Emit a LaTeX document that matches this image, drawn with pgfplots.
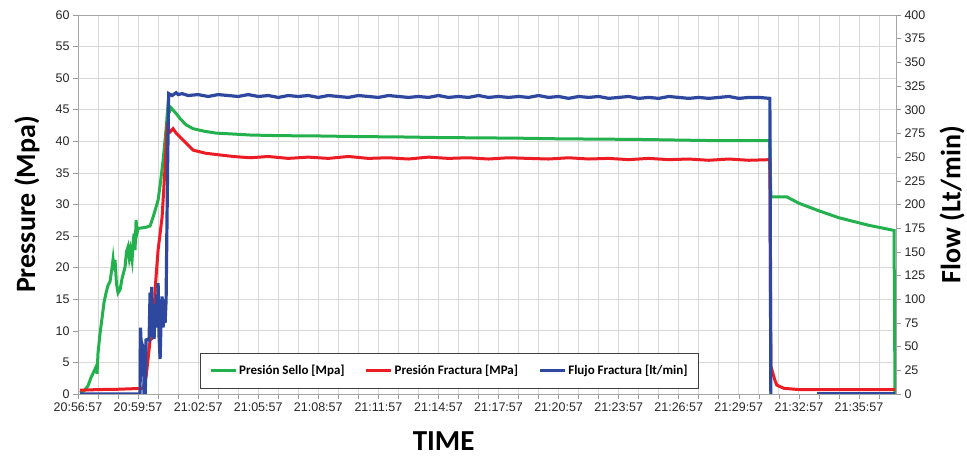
\documentclass[border=0pt]{standalone}
\usepackage{fontspec}
\setmainfont{Liberation Sans}
\newfontfamily\calibri{Carlito}
\usepackage{pgfplots}
\pgfplotsset{compat=1.18}
\definecolor{sello}{RGB}{34,177,76}
\definecolor{fractura}{RGB}{237,28,36}
\definecolor{flujo}{RGB}{46,72,160}

\begin{document}
\begin{tikzpicture}
\pgfplotsset{
  every axis/.append style={
    width=818pt, height=379pt, scale only axis,
    xmin=0, xmax=40.85,
    /pgf/number format/assume math mode=true,
    tick label style={font=\fontsize{12.5}{14}\selectfont, color=black!85},
    tick style={gray!80, line width=0.6pt},
    tick align=outside,
    major tick length=5pt, minor tick length=5pt,
    axis line style={gray!70, line width=0.8pt},
  }
}
\begin{axis}[name=ax,
  ymin=0, ymax=60, ytick={0,5,...,60},
  xtick={0,3,...,39}, minor xtick={0,1,...,40},
  xticklabels={20:56:57,20:59:57,21:02:57,21:05:57,21:08:57,21:11:57,21:14:57,
    21:17:57,21:20:57,21:23:57,21:26:57,21:29:57,21:32:57,21:35:57},
  ytick pos=left, xtick pos=bottom,
  grid=both,
  major grid style={gray!30, line width=0.8pt},
  minor grid style={gray!30, line width=0.8pt},
  ylabel={Pressure (Mpa)},
  ylabel style={font=\calibri\bfseries\fontsize{28}{30}\selectfont,
    at={(axis description cs:-0.0623,0.5)}, anchor=center},
  xlabel={TIME},
  xlabel style={font=\calibri\bfseries\fontsize{29}{30}\selectfont,
    at={(axis description cs:0.447,-0.124)}, anchor=center},
]
% Presion Sello [Mpa]
\addplot[sello, line width=3pt] coordinates {
 (0.1,0.2) (0.3,0.5) (0.5,1.3) (0.65,2.6) (0.8,3.6) (0.9,4.3) (0.95,3.2)
 (1.0,6.5) (1.1,9.6) (1.2,12) (1.3,14.5) (1.4,16) (1.5,17.2) (1.6,17.8)
 (1.7,20) (1.75,21.3) (1.8,19.6) (1.85,21.2) (1.92,17.5) (2.0,16) (2.1,16.5)
 (2.2,18.3) (2.35,20.1) (2.42,22.5) (2.5,23.3) (2.56,21.6) (2.62,22.8)
 (2.7,21.2) (2.75,23.8) (2.8,25.4) (2.85,22.8) (2.9,27.5) (2.95,25.5)
 (3.0,26.2) (3.2,26.3) (3.4,26.4) (3.6,26.6) (3.75,28) (3.9,29.6)
 (4.0,30.7) (4.1,33) (4.25,37) (4.4,42) (4.5,46) (4.58,44.8) (4.65,45.3)
 (4.9,44.4) (5.1,43.6) (5.4,42.6) (5.75,42.0) (6.3,41.6) (6.9,41.3)
 (7.5,41.2) (8.6,41.0) (10,40.9) (12,40.85) (14,40.75) (16,40.7) (18,40.6)
 (20,40.55) (22,40.5) (24,40.4) (26,40.35) (28,40.3) (30,40.2) (32,40.1)
 (34.55,40.1) (34.6,31.2) (35.4,31.2) (36.0,30.2) (37.0,29.0) (38.0,27.9)
 (39.5,26.7) (40.75,25.9) (40.8,0)
};
% Presion Fractura [MPa]
\addplot[fractura, line width=3pt] coordinates {
 (0.1,0.6) (1,0.7) (2,0.75) (3.25,0.9) (3.4,2.7) (3.6,8.5) (3.75,9)
 (3.85,16.5) (4.0,22.8) (4.2,28) (4.35,36) (4.45,42.3) (4.6,41.5)
 (4.75,42) (4.9,41.3) (5.4,39.7) (5.75,38.6) (6.4,38.1) (7.75,37.6)
 (8.6,37.4) (9.5,37.6) (10.5,37.3) (11.5,37.5) (12.5,37.3) (13.5,37.6)
 (14.5,37.3) (15.5,37.4) (16.5,37.2) (17.5,37.5) (18.5,37.3) (19.5,37.4)
 (20.5,37.2) (21.5,37.4) (22.5,37.3) (23.5,37.2) (24.5,37.4) (25.5,37.2)
 (26.5,37.3) (27.5,37.1) (28.5,37.3) (29.5,37.1) (30.5,37.2) (31.5,37.0)
 (32.5,37.2) (33.5,37.0) (34.55,37.1) (34.6,4.4) (34.8,2.2) (34.9,1.4)
 (35.25,0.9) (36,0.7) (40.8,0.7)
};
\end{axis}
\begin{axis}[
  axis y line*=right, axis x line=none,
  ymin=0, ymax=400, ytick={0,25,...,400},
  ylabel={Flow (Lt/min)},
  ylabel style={font=\calibri\bfseries\fontsize{28}{30}\selectfont,
    at={(axis description cs:1.0685,0.5)}, anchor=center},
  legend style={at={(axis description cs:0.454,0.062)}, anchor=center,
    draw=black!75, line width=0.8pt, fill=white,
    font=\calibri\bfseries\fontsize{13}{15}\selectfont,
    inner xsep=9pt, inner ysep=10pt,
    /tikz/every even column/.append style={column sep=18pt}},
  legend columns=3,
  legend image code/.code={\draw[#1] (0pt,0pt) -- (25pt,0pt);},
]
\addlegendimage{sello, line width=3pt}
\addlegendentry{Presión Sello [Mpa]}
\addlegendimage{fractura, line width=3pt}
\addlegendentry{Presión Fractura [MPa]}
% Flujo Fractura [lt/min]
\addplot[flujo, line width=3.2pt] coordinates {
 (0.1,0) (3.1,0) (3.12,70) (3.17,45) (3.2,33) (3.24,50) (3.27,48) (3.3,0)
 (3.36,0) (3.4,57) (3.5,58) (3.55,57) (3.6,107) (3.63,65) (3.68,113)
 (3.72,60) (3.76,95) (3.8,58) (3.85,95) (3.88,70) (3.93,105) (3.97,75)
 (4.0,117) (4.05,60) (4.1,37) (4.15,80) (4.2,103) (4.25,70) (4.3,100)
 (4.35,75) (4.4,100) (4.48,250) (4.53,317) (4.7,315) (4.9,318) (5.0,316)
 (5.2,317) (5.5,315) (6.0,316) (6.5,314) (7.0,316) (7.5,315) (8.0,314)
 (8.5,316) (9.0,314) (9.5,315) (10.0,313) (10.5,315) (11.0,314)
 (11.5,315) (12.0,313) (12.5,315) (13.0,314) (13.5,313) (14.0,315)
 (14.5,314) (15.0,313) (15.5,315) (16.0,314) (16.5,313) (17.0,314)
 (17.5,313) (18.0,315) (18.5,313) (19.0,314) (19.5,313) (20.0,315)
 (20.5,313) (21.0,314) (21.5,313) (22.0,314) (22.5,313) (23.0,315)
 (23.5,313) (24.0,314) (24.5,312) (25.0,314) (25.5,313) (26.0,314)
 (26.5,312) (27.0,313) (27.5,314) (28.0,312) (28.5,313) (29.0,312)
 (29.5,314) (30.0,313) (30.5,312) (31.0,313) (31.5,312) (32.0,313)
 (32.5,314) (33.0,312) (33.5,313) (34.0,313) (34.55,312) (34.6,0)
};
\addlegendentry{Flujo Fractura [lt/min]}
\addplot[flujo, line width=3pt, forget plot] coordinates {(36.9,0) (40.8,0)};
\end{axis}
\pgfresetboundingbox
\path[use as bounding box] ([xshift=-78pt,yshift=-65pt]ax.south west)
  rectangle ([xshift=71pt,yshift=15pt]ax.north east);
\end{tikzpicture}
\end{document}
